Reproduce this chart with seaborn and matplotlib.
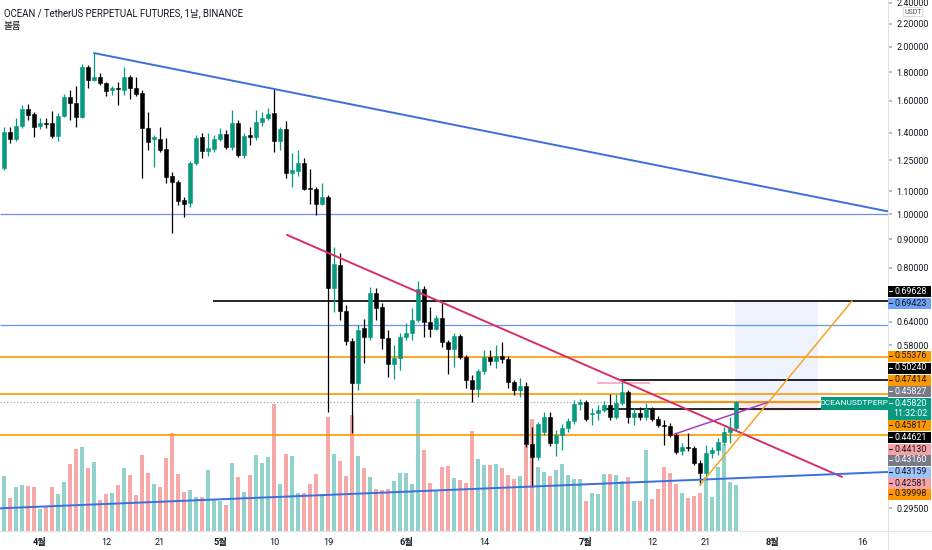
import numpy as np
import pandas as pd
import matplotlib
matplotlib.use("Agg")
import matplotlib.pyplot as plt
import matplotlib.dates as mdates
from matplotlib.lines import Line2D
from matplotlib.patches import Rectangle
import seaborn as sns

sns.set_theme(style="white")
plt.rcParams['font.family'] = ['Roboto', 'Noto Sans CJK KR', 'DejaVu Sans']

TITLE = "OCEAN / TetherUS PERPETUAL FUTURES, 1날, BINANCE"
SUBTITLE = "볼륨"

# daily candles
dates = pd.date_range("2024-03-26", periods=123, freq="D")
opens = [1.210, 1.405, 1.365, 1.441, 1.546, 1.514, 1.441, 1.459, 1.459, 1.382,
         1.502, 1.625, 1.585, 1.495, 1.840, 1.744, 1.765, 1.720, 1.673, 1.687,
         1.673, 1.765, 1.690, 1.652, 1.429, 1.365, 1.365, 1.310, 1.171, 1.142,
         1.060, 1.047, 1.236, 1.377, 1.299, 1.310, 1.365, 1.394, 1.320, 1.459,
         1.278, 1.388, 1.377, 1.465, 1.489, 1.520, 1.354, 1.423, 1.185, 1.195,
         1.236, 1.115, 1.110, 1.042, 1.073, 0.736, 0.809, 0.669, 0.590, 0.496,
         0.623, 0.600, 0.720, 0.680, 0.598, 0.537, 0.550, 0.600, 0.610, 0.644,
         0.733, 0.639, 0.621, 0.649, 0.588, 0.571, 0.603, 0.553, 0.502, 0.484,
         0.521, 0.553, 0.543, 0.555, 0.548, 0.498, 0.482, 0.490, 0.385, 0.365,
         0.405, 0.431, 0.387, 0.400, 0.411, 0.424, 0.455, 0.458, 0.436, 0.438,
         0.443, 0.453, 0.431, 0.456, 0.478, 0.431, 0.438, 0.431, 0.445, 0.427,
         0.417, 0.415, 0.400, 0.374, 0.380, 0.379, 0.356, 0.341, 0.371, 0.376,
         0.388, 0.405, 0.411]
closes = [1.405, 1.365, 1.441, 1.546, 1.508, 1.435, 1.459, 1.453, 1.382, 1.502,
          1.625, 1.585, 1.495, 1.840, 1.744, 1.765, 1.720, 1.666, 1.687, 1.680,
          1.765, 1.690, 1.645, 1.429, 1.348, 1.377, 1.304, 1.166, 1.142, 1.055,
          1.042, 1.236, 1.371, 1.299, 1.315, 1.365, 1.394, 1.320, 1.459, 1.278,
          1.382, 1.377, 1.465, 1.489, 1.514, 1.354, 1.423, 1.185, 1.200, 1.236,
          1.110, 1.110, 1.042, 1.073, 0.736, 0.813, 0.669, 0.590, 0.496, 0.618,
          0.600, 0.720, 0.677, 0.598, 0.537, 0.550, 0.600, 0.610, 0.644, 0.733,
          0.639, 0.621, 0.649, 0.588, 0.571, 0.603, 0.553, 0.502, 0.484, 0.521,
          0.553, 0.543, 0.555, 0.548, 0.498, 0.482, 0.490, 0.385, 0.365, 0.418,
          0.431, 0.387, 0.400, 0.411, 0.424, 0.455, 0.458, 0.427, 0.438, 0.443,
          0.453, 0.431, 0.456, 0.478, 0.431, 0.438, 0.431, 0.445, 0.427, 0.417,
          0.415, 0.400, 0.372, 0.380, 0.379, 0.356, 0.341, 0.371, 0.376, 0.388,
          0.405, 0.411, 0.4582]
highs = [1.435, 1.435, 1.489, 1.572, 1.578, 1.527, 1.489, 1.489, 1.533, 1.520,
         1.645, 1.673, 1.700, 1.860, 1.855, 1.950, 1.795, 1.727, 1.700, 1.727,
         1.840, 1.780, 1.765, 1.673, 1.527, 1.388, 1.435, 1.371, 1.190, 1.151,
         1.073, 1.246, 1.388, 1.400, 1.400, 1.388, 1.429, 1.417, 1.540, 1.477,
         1.400, 1.435, 1.540, 1.527, 1.552, 1.680, 1.435, 1.470, 1.290, 1.304,
         1.261, 1.205, 1.120, 1.137, 1.082, 0.872, 0.850, 0.685, 0.598, 0.631,
         0.647, 0.739, 0.736, 0.691, 0.618, 0.581, 0.610, 0.636, 0.677, 0.757,
         0.742, 0.680, 0.657, 0.691, 0.593, 0.610, 0.608, 0.557, 0.512, 0.526,
         0.569, 0.569, 0.581, 0.588, 0.555, 0.502, 0.506, 0.498, 0.413, 0.422,
         0.440, 0.440, 0.409, 0.418, 0.429, 0.463, 0.465, 0.463, 0.447, 0.453,
         0.461, 0.474, 0.474, 0.498, 0.482, 0.447, 0.449, 0.456, 0.449, 0.432,
         0.425, 0.420, 0.403, 0.387, 0.403, 0.382, 0.360, 0.384, 0.380, 0.395,
         0.413, 0.431, 0.460]
lows = [1.200, 1.343, 1.354, 1.429, 1.477, 1.377, 1.423, 1.429, 1.371, 1.354,
        1.495, 1.477, 1.435, 1.489, 1.690, 1.740, 1.706, 1.632, 1.640, 1.572,
        1.640, 1.612, 1.632, 1.161, 1.304, 1.215, 1.293, 1.137, 0.924, 1.038,
        0.988, 1.030, 1.225, 1.261, 1.270, 1.293, 1.354, 1.310, 1.304, 1.266,
        1.261, 1.332, 1.360, 1.441, 1.477, 1.293, 1.304, 1.161, 1.120, 1.171,
        1.105, 1.042, 0.996, 1.038, 0.440, 0.666, 0.644, 0.581, 0.403, 0.482,
        0.540, 0.593, 0.644, 0.571, 0.509, 0.505, 0.524, 0.593, 0.593, 0.639,
        0.600, 0.600, 0.618, 0.576, 0.516, 0.530, 0.548, 0.486, 0.458, 0.468,
        0.516, 0.535, 0.528, 0.540, 0.486, 0.472, 0.468, 0.380, 0.322, 0.360,
        0.400, 0.382, 0.367, 0.376, 0.405, 0.418, 0.443, 0.424, 0.417, 0.425,
        0.440, 0.425, 0.427, 0.453, 0.420, 0.417, 0.425, 0.425, 0.424, 0.413,
        0.384, 0.397, 0.369, 0.368, 0.374, 0.353, 0.325, 0.336, 0.363, 0.368,
        0.384, 0.387, 0.408]
volumes = [55, 33, 44, 46, 45, 44, 22, 25, 44, 37,
           49, 67, 82, 84, 63, 69, 31, 37, 38, 46,
           63, 56, 36, 76, 58, 47, 44, 73, 98, 57,
           39, 41, 34, 34, 61, 32, 30, 26, 68, 54,
           39, 56, 76, 68, 74, 127, 47, 77, 75, 38,
           38, 47, 57, 37, 114, 77, 70, 55, 116, 75,
           63, 54, 42, 41, 42, 50, 58, 58, 47, 132,
           81, 48, 40, 64, 65, 53, 51, 48, 100, 72,
           66, 66, 67, 63, 56, 52, 55, 86, 112, 64,
           59, 55, 61, 67, 56, 52, 52, 30, 38, 37,
           57, 57, 56, 50, 54, 30, 30, 81, 32, 42,
           64, 58, 47, 38, 33, 35, 38, 54, 34, 64,
           87, 49, 46]

# drawings on the chart
TREND_START = [("2024-04-10", 1.95), ("2024-05-12 04:00", 0.917), ("2024-03-25 08:00", 0.295),
               ("2024-07-20", 0.325), ("2024-07-15 16:00", 0.401)]
TREND_END = [("2024-08-20 08:00", 1.011), ("2024-08-12 16:00", 0.336), ("2024-08-20 08:00", 0.343),
             ("2024-08-14 08:00", 0.697), ("2024-07-31 08:00", 0.458)]
TREND_COLORS = ["#3a6fdc", "#d62f68", "#3a6fdc", "#f5a623", "#a43fc7"]
TREND_WIDTHS = [1.4, 1.4, 1.4, 1.1, 1.1]

LEVELS = [1.0, 0.631, 0.69628, 0.55376, 0.50240, 0.47414, 0.45817, 0.44621, 0.39998, 0.496]
LEVEL_START = [None, None, "2024-04-29 20:00", None, "2024-07-06 16:00", None,
               "2024-07-07 20:00", "2024-07-04 04:00", None, "2024-07-02 20:00"]
LEVEL_END = [None, None, None, None, None, None, None, None, None, "2024-07-11 16:00"]
LEVEL_COLORS = ["#6b93e6", "#6b93e6", "#000000", "#ff9800", "#000000", "#ff9800",
                "#ff9800", "#000000", "#ff9800", "#f4a3bd"]
LEVEL_WIDTHS = [0.9, 0.9, 1.2, 1.2, 1.2, 1.2, 1.6, 1.2, 1.2, 1.2]

LAST_PRICE = 0.4582
LAST_TAG = "0.45820"
COUNTDOWN = "11:32:02"
SYMBOL = "OCEANUSDTPERP"
POS_START, POS_END = "2024-07-25 20:00", "2024-08-08 16:00"
POS_TARGET, POS_STOP = 0.69423, 0.44130

PRICE_TICKS = [2.4, 2.2, 2.0, 1.8, 1.6, 1.4, 1.25, 1.1, 1.0, 0.9, 0.8, 0.64, 0.58, 0.295]

TIME_TICKS = ["2024-04-01", "2024-04-12", "2024-04-21", "2024-05-01", "2024-05-10", "2024-05-19",
              "2024-06-01", "2024-06-14", "2024-07-01", "2024-07-12", "2024-07-21", "2024-08-01",
              "2024-08-16"]
TIME_LABELS = ["4월", "12", "21", "5월", "10", "19", "6월", "14", "7월", "12", "21", "8월", "16"]

TAG_TEXT = ["0.69628", "0.69423", "0.55376", "0.50240", "0.47414", "0.45827", "0.45817",
            "0.44621", "0.44130", "0.43160", "0.43159", "0.42581", "0.39998"]
TAG_BG = ["#000000", "#6fa3f2", "#ff9800", "#000000", "#ff9800", "#787b86", "#ff9800",
          "#000000", "#f5a3a6", "#787b86", "#9ec3f7", "#f5a3a6", "#ff9800"]
TAG_FG = ["white", "#131722", "#131722", "white", "#131722", "white", "#131722",
          "white", "#131722", "white", "#131722", "#131722", "#131722"]
TAG_ROW_PX = [291, 303, 356, 368, 380, 391, 425, 437, 449, 460, 472, 483, 494]

UP, DOWN = "#089981", "#000000"
VOL_UP, VOL_DOWN = "#92d2cc", "#f7a9a7"
TEXT = "#131722"

W, H = 932, 550
PLOT_W, PLOT_H = 888, 531

fig = plt.figure(figsize=(W / 100, H / 100), dpi=100)
ax = fig.add_axes([0, (H - PLOT_H) / H, PLOT_W / W, PLOT_H / H])
axv = ax.twinx()
ax.set_zorder(axv.get_zorder() + 1)
ax.patch.set_visible(False)

x = mdates.date2num(dates)
o, c = np.array(opens), np.array(closes)
up = c >= o
candle_col = np.where(up, UP, DOWN)

# volume pane
axv.bar(x, volumes, width=0.8, color=np.where(up, VOL_UP, VOL_DOWN), linewidth=0)
axv.set_ylim(0, PLOT_H)
axv.set_yticks([])

x0 = mdates.date2num(pd.Timestamp("2024-03-25 08:00"))
x1 = mdates.date2num(pd.Timestamp("2024-08-20 08:00"))

# horizontal levels
for p, s, e, col, lw in zip(LEVELS, LEVEL_START, LEVEL_END, LEVEL_COLORS, LEVEL_WIDTHS):
    xs = x0 if s is None else mdates.date2num(pd.Timestamp(s))
    xe = x1 if e is None else mdates.date2num(pd.Timestamp(e))
    ax.hlines(p, xs, xe, color=col, linewidth=lw, zorder=2)
ax.hlines(LAST_PRICE, x0, x1, color="#9598a1", linewidth=0.8, linestyles=(0, (1, 2)), zorder=2)

# long position box
px0, px1 = mdates.date2num(pd.Timestamp(POS_START)), mdates.date2num(pd.Timestamp(POS_END))
ax.fill_between([px0, px1], LAST_PRICE, POS_TARGET, color="#2962ff", alpha=0.07, linewidth=0, zorder=1)
ax.fill_between([px0, px1], POS_STOP, LAST_PRICE, color="#f23645", alpha=0.1, linewidth=0, zorder=1)

# candles
ax.vlines(x, lows, highs, colors=candle_col, linewidth=0.9, zorder=3)
ax.bar(x, np.abs(c - o), bottom=np.minimum(o, c), width=0.7, color=candle_col,
       edgecolor=candle_col, linewidth=0.4, zorder=4)

# trendlines
for (s, ps), (e, pe), col, lw in zip(TREND_START, TREND_END, TREND_COLORS, TREND_WIDTHS):
    sns.lineplot(x=[mdates.date2num(pd.Timestamp(s)), mdates.date2num(pd.Timestamp(e))],
                 y=[ps, pe], color=col, linewidth=lw, ax=ax, zorder=5)

ax.set_yscale("log")
ax.set_ylim(0.2685, 2.43)
ax.set_xlim(x0, x1)
ax.set_xlabel("")
ax.set_ylabel("")

ax.set_yticks(PRICE_TICKS, labels=[f"{t:.5f}" for t in PRICE_TICKS])
ax.yaxis.set_minor_locator(matplotlib.ticker.NullLocator())
ax.yaxis.tick_right()
ax.tick_params(axis="y", which="major", length=3, color="#b2b5be", pad=3,
               labelsize=6.4, labelcolor=TEXT, right=True, left=False)

tick_x = [mdates.date2num(pd.Timestamp(t)) for t in TIME_TICKS]
ax.set_xticks(tick_x, labels=TIME_LABELS)
ax.tick_params(axis="x", length=0, pad=5, labelsize=6.6, labelcolor=TEXT)
for lab in ax.get_xticklabels():
    if "월" in lab.get_text():
        lab.set_fontweight("bold")

for a in (ax, axv):
    for sp in a.spines.values():
        sp.set_visible(False)

# pane separators
fig.add_artist(Line2D([PLOT_W / W, PLOT_W / W], [0, 1], color="#e0e3eb", linewidth=0.8))
fig.add_artist(Line2D([0, 1], [(H - PLOT_H) / H] * 2, color="#e0e3eb", linewidth=0.8))

# legend text in the top-left corner
fig.text(4 / W, 1 - 13 / H, TITLE, fontsize=6.9, color=TEXT, va="center")
fig.text(4 / W, 1 - 26 / H, SUBTITLE, fontsize=6.9, color=TEXT, va="center")

fig.text(913 / W, 1 - 12 / H, "USDT", fontsize=5.0, color="#50535e", ha="center", va="center",
         bbox=dict(boxstyle="round,pad=0.15", fc="white", ec="#d1d4dc", lw=0.6))


def axis_tag(row_px, height_px, left_px, right_px, bg):
    fig.add_artist(Rectangle((left_px / W, 1 - (row_px + height_px / 2) / H),
                             (right_px - left_px) / W, height_px / H,
                             transform=fig.transFigure, facecolor=bg, edgecolor="none", zorder=10))


def tag_dash(row_px, color):
    fig.add_artist(Line2D([889 / W, 892 / W], [1 - row_px / H] * 2, color=color,
                          linewidth=0.8, zorder=11))


# price tags on the axis
for txt, bg, fg, row in zip(TAG_TEXT, TAG_BG, TAG_FG, TAG_ROW_PX):
    axis_tag(row, 11, 888, 931, bg)
    tag_dash(row, fg)
    fig.text(927 / W, 1 - row / H, txt, fontsize=6.4, color=fg, ha="right", va="center", zorder=11)

axis_tag(409, 22, 888, 931, UP)
tag_dash(403, "white")
fig.text(927 / W, 1 - 403 / H, LAST_TAG, fontsize=6.4, color="white", ha="right", va="center", zorder=11)
fig.text(927 / W, 1 - 414 / H, COUNTDOWN, fontsize=6.4, color="white", ha="right", va="center", zorder=11)
axis_tag(403, 13, 821, 888, UP)
fig.text(854 / W, 1 - 403 / H, SYMBOL, fontsize=6.0, color="white", ha="center", va="center", zorder=11)

fig.savefig("out.png", dpi=100)
